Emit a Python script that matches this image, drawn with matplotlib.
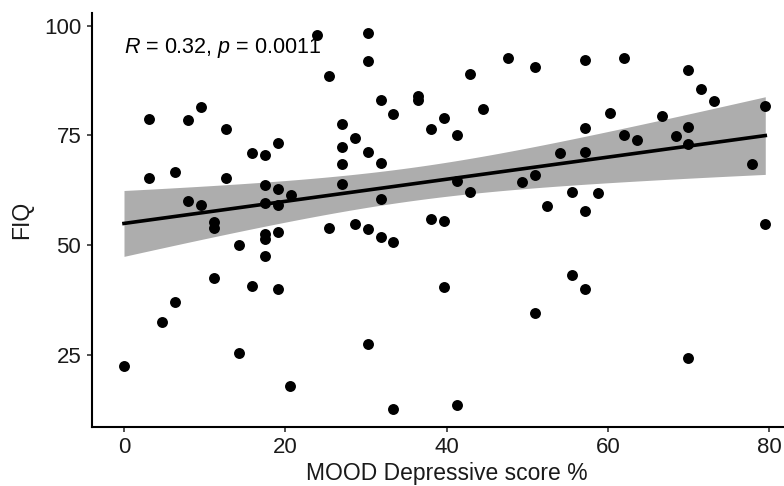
import numpy as np
import matplotlib
matplotlib.use('Agg')
import matplotlib.pyplot as plt

# MOOD depressive score (%) vs FIQ
mood = [23.9, 30.2, 30.2, 25.4, 31.8, 33.3, 36.5, 36.5, 38.1, 39.7,
        3.1, 7.9, 9.6, 12.7, 27.0, 28.6, 27.0, 30.2, 15.9, 17.5,
        19.1, 27.0, 31.8, 3.1, 6.3, 12.7, 17.5, 19.1, 20.7, 27.0,
        7.9, 9.6, 17.5, 19.1, 31.8, 11.1, 11.1, 25.4, 28.6, 30.2,
        31.8, 33.3, 38.1, 39.7, 17.5, 17.5, 19.1, 14.3,
        17.5, 11.1, 15.9, 19.1, 6.3, 4.7, 0.0, 14.3, 20.6, 30.2, 33.3,
        39.7, 41.3, 50.9, 55.6, 57.2, 69.9,
        47.6, 50.9, 57.2, 62.0, 42.9, 69.9, 71.5, 73.1, 44.5, 41.3,
        60.3, 66.7, 57.2, 69.9, 62.0, 63.6, 68.4, 69.9, 79.5, 54.0,
        57.2, 77.9, 41.3, 42.9, 49.3, 50.9, 55.6, 58.8, 52.4, 57.2, 79.5]
fiq = [97.9, 98.4, 91.9, 88.6, 83.1, 79.9, 84.0, 83.0, 76.4, 78.9,
       78.8, 78.6, 81.5, 76.5, 77.7, 74.3, 72.3, 71.2, 71.1, 70.5,
       73.2, 68.5, 68.8, 65.2, 66.6, 65.4, 63.8, 62.7, 61.4, 64.0,
       60.0, 59.1, 59.6, 59.1, 60.5, 55.2, 54.0, 54.0, 54.9, 53.8,
       51.9, 50.8, 56.0, 55.6, 52.5, 51.4, 53.0, 50.1,
       47.6, 42.6, 40.6, 40.1, 37.0, 32.4, 22.6, 25.5, 17.9, 27.4, 12.7,
       40.4, 13.7, 34.6, 43.3, 40.1, 24.4,
       92.6, 90.6, 92.1, 92.6, 88.9, 89.9, 85.6, 82.9, 80.9, 75.2,
       80.2, 79.5, 76.7, 77.0, 75.1, 73.9, 74.9, 73.1, 81.8, 71.1,
       71.3, 68.6, 64.6, 62.0, 64.4, 66.0, 62.0, 61.8, 59.0, 57.7, 54.8]
cor_label = r'$\it{R}$ = 0.32, $\it{p}$ = 0.0011'

plt.rcParams['font.family'] = ['Liberation Sans', 'DejaVu Sans']
plt.rcParams['mathtext.fontset'] = 'custom'
plt.rcParams['mathtext.rm'] = 'Liberation Sans'
plt.rcParams['mathtext.it'] = 'Liberation Sans:italic'

x = np.array(mood, dtype=float)
y = np.array(fiq, dtype=float)

# linear fit + 95% confidence band (like geom_smooth(method='lm'))
n = len(x)
slope, intercept = np.polyfit(x, y, 1)
xs = np.linspace(x.min(), x.max(), 200)
ys = intercept + slope * xs
resid = y - (intercept + slope * x)
s = np.sqrt(np.sum(resid ** 2) / (n - 2))
sxx = np.sum((x - x.mean()) ** 2)
se = s * np.sqrt(1.0 / n + (xs - x.mean()) ** 2 / sxx)
tval = 1.986  # t(0.975, df~94)

fig = plt.figure(figsize=(7.84, 4.86), dpi=100)
ax = fig.add_axes([0.117, 0.122, 0.9054, 0.8506])

ax.fill_between(xs, ys - tval * se, ys + tval * se, color='#adadad', lw=0, zorder=1)
ax.plot(xs, ys, color='black', lw=2.6, zorder=2)
ax.scatter(x, y, s=62, color='black', lw=0, zorder=3)

ax.text(0, 94.9, cor_label, ha='left', va='center', fontsize=15.5, color='black')

ax.set_xlim(-4, 84)
ax.set_ylim(8.67, 102.8)
ax.set_xticks([0, 20, 40, 60, 80])
ax.set_yticks([25, 50, 75, 100])

for side in ['top', 'right']:
    ax.spines[side].set_visible(False)
for side in ['left', 'bottom']:
    ax.spines[side].set_linewidth(1.5)
    ax.spines[side].set_color('black')

ax.tick_params(axis='both', length=3.6, width=1.2, color='#333333',
               labelsize=16, labelcolor='#1a1a1a', pad=4)
ax.set_xlabel('MOOD Depressive score %', fontsize=16.5, color='#1a1a1a', labelpad=3)
ax.set_ylabel('FIQ', fontsize=16.5, color='#1a1a1a', labelpad=8)

fig.savefig('out.png', dpi=100)
